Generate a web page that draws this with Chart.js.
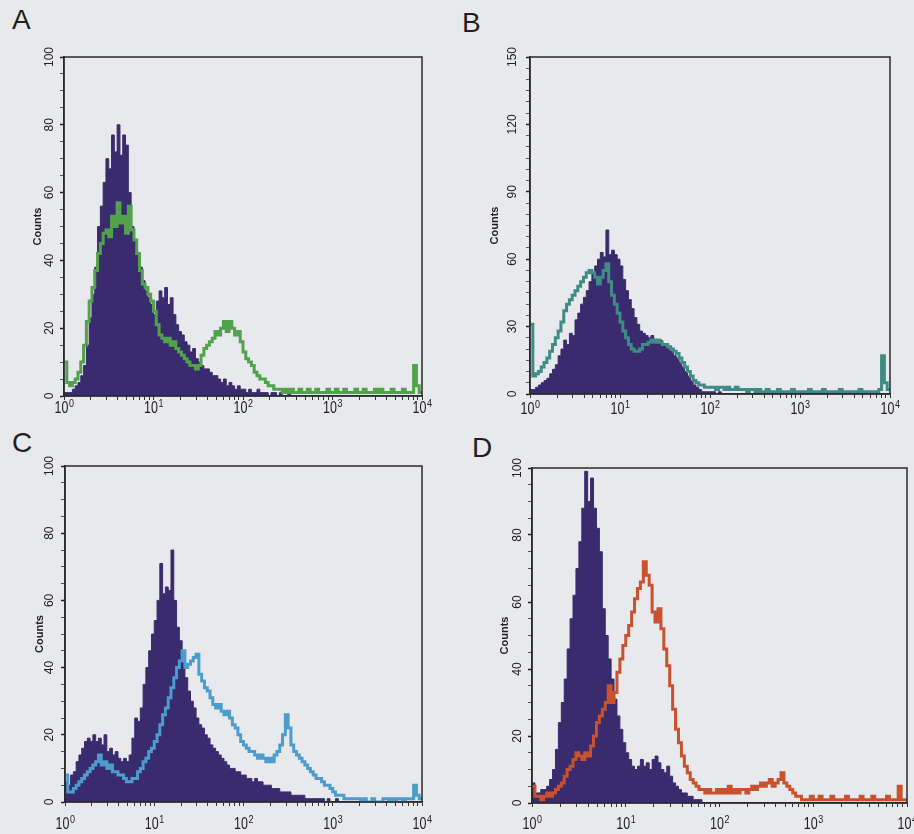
<!DOCTYPE html>
<html>
<head>
<meta charset="utf-8">
<script src="https://cdn.jsdelivr.net/npm/chart.js@4.4.1/dist/chart.umd.min.js"></script>
<style>
  html, body { margin: 0; padding: 0; background: #e8e9ec; }
  body { width: 914px; height: 834px; position: relative; overflow: hidden;
         font-family: "Liberation Sans", Arial, sans-serif; }
  canvas { position: absolute; }
  .letter { position: absolute; font-size: 28px; line-height: 1; color: #1f1f1f; }
</style>
</head>
<body>
<div class="letter" id="lA" style="left:12px;top:6px"></div>
<div class="letter" id="lB" style="left:462px;top:9px"></div>
<div class="letter" id="lC" style="left:12px;top:429px"></div>
<div class="letter" id="lD" style="left:472px;top:434px"></div>
<canvas id="cA" width="440" height="390" style="left:0;top:40px;width:440px;height:390px"></canvas>
<canvas id="cB" width="454" height="390" style="left:460px;top:40px;width:454px;height:390px"></canvas>
<canvas id="cC" width="440" height="386" style="left:0;top:448px;width:440px;height:386px"></canvas>
<canvas id="cD" width="454" height="386" style="left:460px;top:448px;width:454px;height:386px"></canvas>
<script>
// ---- Histogram counts: 32 channels per decade, 10^0 .. 10^4 (128 channels) ----

// Panel A
const aControl = [
  1,1,1,2,3,4,6,9,15,23,30,38,50,56,63,70,67,77,72,80,71,77,74,60,50,46,42,38,34,31,29,27,
  24,28,31,29,32,27,29,24,21,19,18,16,15,13,14,11,10,9,8,8,7,6,6,5,4,5,3,4,3,2,3,2,
  2,1,2,1,1,2,1,1,1,0,1,1,0,1,0,0,1,0,0,0,0,0,0,0,0,0,0,0,0,0,0,0,
  0,0,0,0,0,0,0,0,0,0,0,0,0,0,0,0,0,0,0,0,0,0,0,0,0,0,0,0,0,0,0,0
];
const aStained = [
  10,4,3,4,5,7,10,15,22,28,32,37,42,45,48,49,47,53,50,57,51,53,48,56,49,46,42,37,33,32,30,28,
  25,21,18,17,16,17,15,16,14,13,12,11,10,9,9,8,9,12,14,15,16,17,19,18,20,22,19,22,20,18,19,16,
  13,11,10,9,7,6,5,5,4,3,3,2,2,2,1,2,1,2,1,1,2,1,1,2,1,1,2,1,1,1,2,1,
  1,2,1,1,2,1,1,1,2,1,1,2,1,1,1,2,1,2,1,1,1,2,1,1,1,2,1,1,1,9,3,1
];

// Panel B
const bControl = [
  2,2,3,4,5,6,7,9,11,13,17,20,24,22,27,26,33,36,40,43,46,50,54,57,60,63,61,73,62,64,62,60,
  57,51,46,42,38,34,31,28,27,26,25,26,24,23,24,22,21,20,19,17,16,14,12,10,8,6,4,3,2,1,1,1,
  1,1,0,1,0,0,0,0,0,0,0,0,0,0,0,0,0,0,0,0,0,0,0,0,0,0,0,0,0,0,0,0,
  0,0,0,0,0,0,0,0,0,0,0,0,0,0,0,0,0,0,0,0,0,0,0,0,0,0,0,0,0,0,0,0
];
const bStained = [
  31,8,9,10,12,14,16,19,22,25,28,32,37,40,42,44,46,48,50,52,54,55,54,52,49,52,55,58,50,44,40,36,
  32,28,25,22,20,19,19,20,22,22,23,24,23,24,23,22,22,21,20,19,18,16,14,12,10,8,6,5,4,4,3,3,
  3,3,2,3,3,2,3,2,2,3,2,2,2,1,2,2,1,2,1,1,2,1,1,1,2,1,1,1,1,2,1,1,
  1,1,1,2,1,1,1,1,2,1,1,1,1,1,2,1,1,1,1,1,1,2,1,1,1,1,1,1,2,17,5,2
];

// Panel C
const cControl = [
  6,5,8,9,12,14,16,18,19,18,20,18,19,17,20,15,16,14,15,13,12,13,12,14,19,25,24,28,35,40,45,50,
  54,60,71,62,64,63,75,60,52,48,42,37,33,30,28,25,23,22,20,19,17,16,15,14,13,12,11,10,10,9,9,8,
  8,7,7,6,7,6,6,5,5,5,4,4,4,3,3,3,3,2,2,2,2,2,1,1,1,1,1,1,1,0,1,0,
  0,1,0,0,0,0,0,0,0,0,0,0,0,0,0,0,0,0,0,0,0,0,0,0,0,0,0,0,0,0,0,0
];
const cStained = [
  8,3,3,4,5,6,7,8,9,10,11,12,14,11,12,10,11,9,9,8,8,7,6,6,7,7,9,10,12,13,15,16,
  18,20,23,26,28,31,34,37,40,42,45,40,41,42,43,44,38,36,34,33,31,29,28,29,27,26,27,25,23,22,20,18,
  17,16,15,15,14,13,14,13,12,13,12,14,15,17,20,26,22,17,15,14,13,12,11,10,9,8,7,7,6,5,5,4,
  3,2,2,2,1,1,1,1,1,1,0,1,0,0,1,0,0,0,1,1,0,1,0,1,1,0,1,1,1,5,2,1
];

// Panel D
const dControl = [
  6,3,3,4,4,5,7,10,16,24,30,37,46,55,62,70,78,88,99,90,97,88,82,75,58,50,43,37,31,26,22,18,
  15,13,11,10,11,13,11,12,10,13,14,12,10,9,11,8,6,5,4,3,3,2,2,1,1,1,0,0,0,0,0,0,
  0,0,0,0,0,0,0,0,0,0,0,0,0,0,0,0,0,0,0,0,0,0,0,0,0,0,0,0,0,0,0,0,
  0,0,0,0,0,0,0,0,0,0,0,0,0,0,0,0,0,0,0,0,0,0,0,0,0,0,0,0,0,0,0,0
];
const dStained = [
  5,2,2,1,2,3,2,3,4,5,6,8,10,11,13,15,14,13,15,14,17,20,24,26,28,30,35,30,33,39,43,47,
  50,53,57,61,64,66,72,68,65,57,54,58,52,46,41,35,28,22,18,14,11,9,7,6,5,4,4,3,4,3,3,4,
  3,4,3,5,3,4,3,4,4,3,4,5,4,5,6,5,6,7,5,6,7,9,6,5,4,3,2,2,1,1,1,2,
  1,1,2,1,1,1,2,1,1,1,1,2,1,1,1,1,2,1,1,1,2,1,1,1,1,2,1,1,1,5,1,1
];

// ---- Axis text ----
const panelNames = ['A', 'B', 'C', 'D'];
const yTitle = 'Counts';
const yLabelsA = [0, 20, 40, 60, 80, 100];
const yLabelsB = [0, 30, 60, 90, 120, 150];
const yLabelsC = [0, 20, 40, 60, 80, 100];
const yLabelsD = [0, 20, 40, 60, 80, 100];
const xDecades = [0, 1, 2, 3, 4];          // labelled 10^0 ... 10^4

// ---- Drawing ----
const CHANNELS_PER_DECADE = 32;
const FONT = '"Liberation Sans", Arial, sans-serif';
const INK = '#222222';
const FILL_COLOR = '#3a2b6e';

panelNames.forEach(n => { document.getElementById('l' + n).textContent = n; });

function histogramPoints(counts) {
  // each channel value holds from its left edge to the next edge
  const pts = counts.map((c, i) => ({ x: Math.pow(10, i / CHANNELS_PER_DECADE), y: c }));
  pts.push({ x: Math.pow(10, counts.length / CHANNELS_PER_DECADE), y: counts[counts.length - 1] });
  return pts;
}

function xTickValues() {
  const vals = [];
  for (let d = 0; d < 4; d++) {
    for (let m = 1; m <= 9; m++) vals.push(m * Math.pow(10, d));
  }
  vals.push(10000);
  return vals;
}

// closes the plot box and writes the decade labels with raised exponents
const framePlugin = {
  id: 'frameAndDecades',
  afterDatasetsDraw(chart) {
    const { ctx, chartArea: a } = chart;
    ctx.save();
    ctx.strokeStyle = '#2a2a2a';
    ctx.lineWidth = 1.5;
    ctx.strokeRect(a.left, a.top, a.right - a.left, a.bottom - a.top);
    ctx.restore();
  },
  afterDraw(chart, args, opts) {
    const { ctx } = chart;
    const xs = chart.scales.x;
    ctx.save();
    ctx.fillStyle = INK;
    ctx.textBaseline = 'alphabetic';
    ctx.textAlign = 'left';
    xDecades.forEach(d => {
      const px = xs.getPixelForValue(Math.pow(10, d));
      ctx.font = '12.5px ' + FONT;
      const wb = ctx.measureText('10').width;
      ctx.font = '9px ' + FONT;
      const we = ctx.measureText(String(d)).width;
      const x0 = px - (wb + we) / 2;
      ctx.save();
      ctx.translate(x0, xs.top + opts.baseline);
      ctx.scale(1, 1.3);
      ctx.font = '12.5px ' + FONT;
      ctx.fillText('10', 0, 0);
      ctx.font = '9px ' + FONT;
      ctx.fillText(String(d), wb + 0.5, -4.8);
      ctx.restore();
    });
    ctx.restore();
  }
};

const panels = [
  { canvas: 'cA', control: aControl, stained: aStained, color: '#52a14c', yLabels: yLabelsA,
    yWidth: 64, padTop: 17, padRight: 18, xHeight: 34, titlePad: 31, tickPad: 0, baseline: 17 },
  { canvas: 'cB', control: bControl, stained: bStained, color: '#3f8c85', yLabels: yLabelsB,
    yWidth: 70, padTop: 17, padRight: 24, xHeight: 36, titlePad: 28, tickPad: 3.5, baseline: 20 },
  { canvas: 'cC', control: cControl, stained: cStained, color: '#4a9dcc', yLabels: yLabelsC,
    yWidth: 65, padTop: 18, padRight: 18, xHeight: 32, titlePad: 33, tickPad: 1, baseline: 27 },
  { canvas: 'cD', control: dControl, stained: dStained, color: '#c9512d', yLabels: yLabelsD,
    yWidth: 72, padTop: 20, padRight: 7, xHeight: 31, titlePad: 38, tickPad: 0.5, baseline: 26 }
];

panels.forEach(p => {
  const yMax = p.yLabels[p.yLabels.length - 1];
  new Chart(document.getElementById(p.canvas), {
    type: 'line',
    data: {
      datasets: [
        {
          data: histogramPoints(p.stained),
          borderColor: p.color,
          borderWidth: 3,
          pointRadius: 0,
          stepped: 'before',
          fill: false
        },
        {
          data: histogramPoints(p.control),
          borderColor: FILL_COLOR,
          backgroundColor: FILL_COLOR,
          borderWidth: 1,
          pointRadius: 0,
          stepped: 'before',
          fill: 'origin'
        }
      ]
    },
    options: {
      responsive: false,
      animation: false,
      events: [],
      layout: { padding: { left: 0, top: p.padTop, right: p.padRight, bottom: 0 } },
      plugins: {
        legend: { display: false },
        tooltip: { enabled: false },
        frameAndDecades: { baseline: p.baseline }
      },
      scales: {
        x: {
          type: 'logarithmic',
          min: 1,
          max: 10000,
          afterBuildTicks: s => { s.ticks = xTickValues().map(v => ({ value: v })); },
          ticks: { autoSkip: false, maxRotation: 0, minRotation: 0, callback: () => '' },
          grid: { drawOnChartArea: false, drawTicks: true, tickLength: 4, tickColor: '#333', tickWidth: 1 },
          border: { display: true, color: '#2a2a2a', width: 1.5 },
          afterFit: s => { s.height = p.xHeight; s.paddingLeft = 0; s.paddingRight = 0; }
        },
        y: {
          type: 'linear',
          min: 0,
          max: yMax,
          afterBuildTicks: s => {
            const t = [];
            for (let v = 0; v <= yMax; v += 5) t.push({ value: v });
            s.ticks = t;
          },
          ticks: {
            autoSkip: false,
            minRotation: 90,
            maxRotation: 90,
            crossAlign: 'center',
            padding: p.tickPad,
            color: INK,
            font: { size: 12, family: FONT },
            callback: v => (p.yLabels.includes(v) ? String(v) : '')
          },
          grid: {
            drawOnChartArea: false,
            drawTicks: true,
            tickLength: 4,
            tickColor: c => (p.yLabels.includes(c.tick && c.tick.value) ? '#222' : '#555'),
            tickWidth: c => (p.yLabels.includes(c.tick && c.tick.value) ? 1.5 : 1)
          },
          border: { display: true, color: '#2a2a2a', width: 1.5 },
          title: {
            display: true,
            text: yTitle,
            color: INK,
            font: { size: 11, weight: 'bold', family: FONT },
            padding: { top: p.titlePad, bottom: 0 }
          },
          afterFit: s => { s.width = p.yWidth; s.paddingTop = 0; s.paddingBottom = 0; }
        }
      }
    },
    plugins: [framePlugin]
  });
});
</script>
</body>
</html>
